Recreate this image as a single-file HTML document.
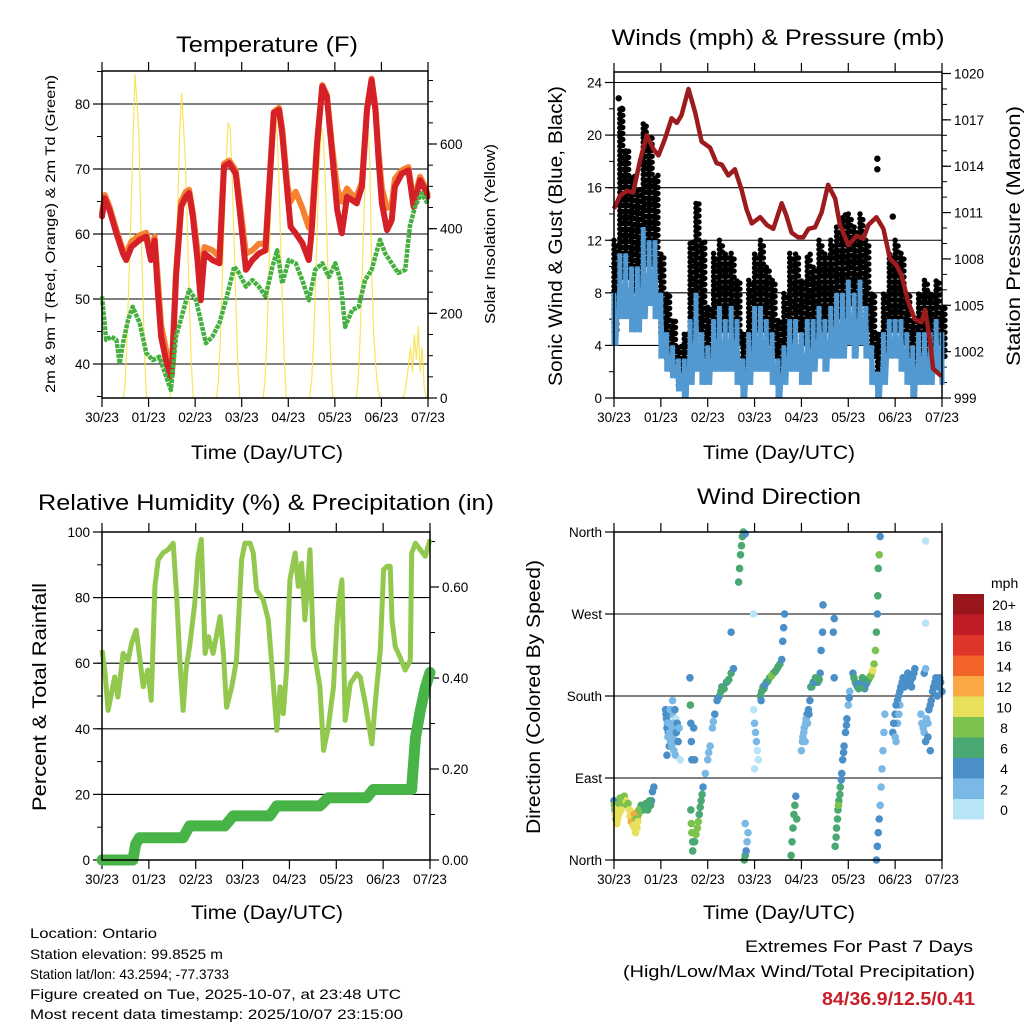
<!DOCTYPE html>
<html><head><meta charset="utf-8"><style>
html,body{margin:0;padding:0;background:#fff;}
svg{display:block;font-family:"Liberation Sans",sans-serif;}
</style></head><body>
<svg id="fig" width="1024" height="1024" viewBox="0 0 1024 1024">
<rect width="1024" height="1024" fill="#fff"/>
<g font-size="22" text-anchor="middle" fill="#000">
<text x="267" y="52" textLength="182" lengthAdjust="spacingAndGlyphs">Temperature (F)</text>
<text x="778" y="45" textLength="333" lengthAdjust="spacingAndGlyphs">Winds (mph) &amp; Pressure (mb)</text>
<text x="266" y="510" textLength="456" lengthAdjust="spacingAndGlyphs">Relative Humidity (%) &amp; Precipitation (in)</text>
<text x="779" y="504" textLength="164" lengthAdjust="spacingAndGlyphs">Wind Direction</text>
</g>
<g font-size="19" text-anchor="middle">
<text x="267" y="459" textLength="152" lengthAdjust="spacingAndGlyphs">Time (Day/UTC)</text>
<text x="779" y="459" textLength="152" lengthAdjust="spacingAndGlyphs">Time (Day/UTC)</text>
<text x="267" y="919" textLength="152" lengthAdjust="spacingAndGlyphs">Time (Day/UTC)</text>
<text x="779" y="919" textLength="152" lengthAdjust="spacingAndGlyphs">Time (Day/UTC)</text>
<text transform="translate(55,234) rotate(-90)" font-size="14" textLength="318" lengthAdjust="spacingAndGlyphs">2m &amp; 9m T (Red, Orange) &amp; 2m Td (Green)</text>
<text transform="translate(495,234) rotate(-90)" font-size="15" textLength="180" lengthAdjust="spacingAndGlyphs">Solar Insolation (Yellow)</text>
<text transform="translate(562,236) rotate(-90)" textLength="300" lengthAdjust="spacingAndGlyphs">Sonic Wind &amp; Gust (Blue, Black)</text>
<text transform="translate(1020,236) rotate(-90)" textLength="260" lengthAdjust="spacingAndGlyphs">Station Pressure (Maroon)</text>
<text transform="translate(46,697) rotate(-90)" textLength="228" lengthAdjust="spacingAndGlyphs">Percent &amp; Total Rainfall</text>
<text transform="translate(540,697) rotate(-90)" textLength="274" lengthAdjust="spacingAndGlyphs">Direction (Colored By Speed)</text>
</g>
<g font-size="14">
<text x="30" y="938" textLength="127" lengthAdjust="spacingAndGlyphs">Location: Ontario</text>
<text x="30" y="959" textLength="193" lengthAdjust="spacingAndGlyphs">Station elevation: 99.8525 m</text>
<text x="30" y="979" textLength="199" lengthAdjust="spacingAndGlyphs">Station lat/lon: 43.2594; -77.3733</text>
<text x="30" y="999" textLength="371" lengthAdjust="spacingAndGlyphs">Figure created on Tue, 2025-10-07, at 23:48 UTC</text>
<text x="30" y="1019" textLength="373" lengthAdjust="spacingAndGlyphs">Most recent data timestamp: 2025/10/07 23:15:00</text>
<text x="973" y="952" text-anchor="end" font-size="17" textLength="228" lengthAdjust="spacingAndGlyphs">Extremes For Past 7 Days</text>
<text x="975" y="977" text-anchor="end" font-size="17" textLength="352" lengthAdjust="spacingAndGlyphs">(High/Low/Max Wind/Total Precipitation)</text>
<text x="975" y="1005" text-anchor="end" font-size="18" font-weight="bold" fill="#c8202a" textLength="153" lengthAdjust="spacingAndGlyphs">84/36.9/12.5/0.41</text>
</g>
</svg>
<script>
// ---------- data ----------
const dayLabels=["30/23","01/23","02/23","03/23","04/23","05/23","06/23","07/23"];
const tempTicks=[40,50,60,70,80];
const solarTicks=[0,200,400,600];
const windTicks=[0,4,8,12,16,20,24];
const presTicks=[999,1002,1005,1008,1011,1014,1017,1020];
const rhTicks=[0,20,40,60,80,100];
const rainTicks=["0.00","0.20","0.40","0.60"];
const dirTicks=["North","East","South","West","North"];

const tDays=[0,0.06,0.16,0.31,0.45,0.52,0.63,0.81,0.95,1.05,1.13,1.2,1.27,1.45,1.5,1.59,1.7,1.8,1.87,1.95,2.05,2.12,2.2,2.37,2.52,2.62,2.73,2.87,2.98,3.09,3.23,3.37,3.51,3.69,3.8,3.87,3.98,4.05,4.16,4.3,4.44,4.51,4.62,4.73,4.83,4.94,5.05,5.15,5.26,5.37,5.47,5.58,5.69,5.79,5.87,5.94,6.01,6.12,6.22,6.29,6.44,6.58,6.69,6.83,6.94,6.99];
const temp2m=[62.7,65.5,63.7,60.1,57,56,58,59.1,59.6,56,59,50.9,44.2,38,38.5,53.4,64.2,65.7,66.3,62.7,56,49.8,57,56,55.5,70.4,70.9,69.3,62.1,54.5,56,57,57.5,78.6,79.1,75.5,66.3,61.1,60.1,58.6,56,61.1,74,82.7,81.1,72.4,63.7,60.1,65.7,65.2,64.7,67.3,79.1,83.7,79.1,71.4,64.7,60.6,62.1,67.3,69.3,69.8,64.2,68.3,66.8,65.7];
const temp9m=[63.2,66,64.2,60.6,57.5,57,58.8,59.8,60.2,57,59.6,53,46,39.5,40,54,65,66.5,66.8,63.4,57.5,51,58,57.5,56.5,70.8,71.3,69.8,63.5,57,57.5,58.5,58.5,78.8,79.4,76.2,67.5,65,66.5,64,61,63,74.5,82.9,81.4,73.4,67,65,67,66,65.8,68,79.4,83.9,79.6,72.5,67,64,64.5,68.5,69.8,70.3,65,68.8,67.2,66.2];
const tdDays=[0,0.09,0.2,0.31,0.38,0.45,0.56,0.66,0.81,0.95,1.09,1.23,1.38,1.48,1.59,1.73,1.87,2.02,2.23,2.37,2.52,2.66,2.84,2.94,3.09,3.23,3.37,3.51,3.66,3.76,3.87,4.01,4.16,4.3,4.44,4.58,4.73,4.87,5.01,5.12,5.22,5.37,5.51,5.65,5.79,5.97,6.08,6.22,6.36,6.51,6.61,6.72,6.86,6.99];
const dewpoint=[50.4,43.7,44.2,43.7,40.1,43.2,46.8,48.8,46.3,41.7,40.6,41.1,38,36,44.2,47.8,51.4,49.8,43.2,44.2,46.3,49.8,55,54,51.9,52.9,51.9,50.4,55,57.5,52.4,56,55.5,52.9,49.8,54.5,55.5,53.4,55.5,52.9,45.7,48.3,48.8,52.9,54.5,59.1,57,55.5,54,54.5,61.1,64.2,66.3,64.7];
const solarHours=[11,12,13,14,15,16,17,18,19,20,21,22,23];
const solarDay0=[0,40,150,300,450,600,765,700,620,420,250,90,0];
const solarDay1=[0,40,150,300,450,620,720,640,560,400,230,80,0];
const solarDay2=[0,40,140,280,420,560,650,640,530,380,220,80,0];
const solarDay3=[0,40,140,300,460,600,680,660,540,380,220,80,0];
const solarDay4=[0,40,130,270,410,560,640,620,520,370,210,70,0];
const solarDay5=[0,40,140,280,430,580,650,560,300,150,80,30,0];
const solarDay6=[0,10,40,80,120,60,150,90,170,60,120,30,0];

const wDays=[0,0.125,0.25,0.375,0.5,0.625,0.75,0.875,1,1.125,1.25,1.375,1.5,1.625,1.75,1.875,2,2.125,2.25,2.375,2.5,2.625,2.75,2.875,3,3.125,3.25,3.375,3.5,3.625,3.75,3.875,4,4.125,4.25,4.375,4.5,4.625,4.75,4.875,5,5.125,5.25,5.375,5.5,5.625,5.75,5.875,6,6.125,6.25,6.375,6.5,6.625,6.75,6.875,7];
const gustHi=[12,22,19,17,16,21,20,17,11,8,6,4,5,12,15,12,7,11,12,11,11,9,5,9,11,12,10,9,6,8,11,11,9,11,10,12,11,12,13,14,14,13,14,12,8,5,8,11,12,11,8,6,8,9,8,9,7];
const gustLo=[5,9,9,8,7,10,10,9,5,3,2,1,1,3,5,3,2,4,5,5,4,4,1,3,5,5,4,3,1,2,4,5,4,3,4,5,5,5,6,6,7,6,7,5,3,1,3,5,5,4,3,2,3,3,3,4,3];
const spdHi=[8,11,11,10,10,13,12,12,8,5,4,3,3,6,8,5,4,6,7,6,7,6,3,5,7,7,6,5,3,4,6,6,5,6,6,7,6,7,8,8,9,8,9,7,4,2,5,6,6,6,5,4,5,5,5,6,5];
const spdLo=[4,6,6,5,5,6,7,6,3,2,1.5,0.5,0,1,2,1,1,2,2,2,2,1,0,1,2,2,2,1,0,1,2,2,1,1,2,3,2,3,3,3,4,3,4,3,1,0,1,3,3,2,1,0,1,1,1,2,1];
const gustOutDays=[0.1,0.17,0.65,5.62,5.62,5.95];
const gustOutVals=[22.8,22,20.5,18.2,17.4,13.8];
const presDays=[0,0.13,0.27,0.41,0.55,0.7,0.84,0.95,1.09,1.23,1.34,1.44,1.59,1.73,1.87,2.05,2.19,2.3,2.44,2.58,2.72,2.83,2.94,3.12,3.26,3.4,3.58,3.68,3.79,3.93,4.04,4.15,4.29,4.43,4.57,4.72,4.82,5,5.18,5.32,5.43,5.6,5.75,5.89,6.03,6.14,6.28,6.42,6.56,6.64,6.74,6.81,6.99];
const pressure=[1011.25,1012.1,1012.4,1012.3,1014.3,1016,1015.1,1014.7,1015.8,1017.1,1016.8,1017.3,1019,1017.5,1015.6,1015.2,1014.2,1014.1,1013.4,1013.8,1012.5,1011.2,1010.3,1010.7,1010.2,1009.95,1011.6,1010.8,1009.7,1009.4,1009.4,1009.95,1010.05,1011,1012.8,1011.9,1010.2,1008.9,1009.5,1009.3,1010.2,1010.7,1009.95,1008,1007.6,1006.9,1005.2,1004.1,1003.9,1004.7,1002.8,1000.9,1000.4];

const rhDays=[0,0.06,0.13,0.2,0.27,0.34,0.45,0.56,0.63,0.73,0.81,0.88,0.98,1.05,1.13,1.2,1.3,1.41,1.52,1.59,1.66,1.73,1.8,1.87,1.98,2.05,2.12,2.2,2.27,2.37,2.52,2.59,2.66,2.77,2.87,2.98,3.05,3.16,3.23,3.3,3.44,3.55,3.66,3.73,3.8,3.87,3.94,4.01,4.12,4.19,4.26,4.33,4.44,4.51,4.65,4.73,4.83,4.94,5.01,5.05,5.12,5.19,5.3,5.44,5.51,5.62,5.76,5.83,5.94,6.01,6.08,6.15,6.19,6.26,6.36,6.47,6.58,6.61,6.69,6.79,6.9,7];
const rhVals=[64,57.9,45.6,50.7,55.8,49.7,63,60.9,66,70.1,60.9,52.8,57.9,48.7,83.4,91.5,93.6,94.6,96.6,81.3,60.9,45.6,58.9,65,78.3,92.6,97.7,63,68.1,63,74.2,63,46.6,52.8,60.9,91.5,96.6,96.6,93.6,82.3,79.3,73.2,52.8,39.5,52.8,44.6,57.9,85.4,93.6,83.4,90.5,73.2,94.6,65,52.8,33.4,40.5,52.8,71.1,78.3,85.4,42.6,53.8,56.8,55.8,47.7,35.4,47.7,64,88.5,89.5,89.5,73.2,65,61.9,57.9,60.9,93.6,96.6,94.6,92.6,97.7];
const rainDays=[0,0.66,0.72,0.8,1.73,1.87,2.62,2.8,3.58,3.73,4.65,4.83,5.65,5.79,6.61,6.62,6.69,6.79,6.9,7];
const rainVals=[0,0,0.035,0.049,0.049,0.075,0.075,0.097,0.097,0.119,0.119,0.137,0.137,0.155,0.155,0.174,0.269,0.327,0.379,0.412];

const dirDays=[0,0.02,0.04,0.06,0.08,0.1,0.12,0.14,0.16,0.18,0.2,0.22,0.25,0.28,0.3,0.33,0.36,0.38,0.4,0.42,0.44,0.46,0.48,0.5,0.52,0.55,0.58,0.6,0.62,0.66,0.7,0.74,0.78,0.8,0.82,0.85,
1.1,1.12,1.14,1.16,1.18,1.2,1.22,1.24,1.26,1.28,1.3,1.32,1.62,1.63,1.64,1.65,1.66,1.64,1.65,1.66,1.68,1.68,1.7,1.72,
1.72,1.78,1.82,1.86,1.9,1.95,2,2.05,2.1,2.15,2.2,2.25,2.3,2.35,2.4,2.45,2.5,2.55,2.5,
2.66,2.68,2.7,2.72,2.74,2.76,2.8,2.78,2.8,2.82,2.84,2.86,2.8,2.98,3,3.02,3.04,3.06,3.08,3,2.98,
3.12,3.18,3.25,3.32,3.4,3.48,3.54,3.58,3.6,3.62,3.64,3.78,3.8,3.82,3.84,3.86,3.88,3.9,
4,4.03,4.06,4.09,4.12,4.15,4.18,4.2,4.25,4.3,4.35,4.4,4.42,4.45,4.46,
4.72,4.75,4.78,4.8,4.83,4.86,4.88,4.91,4.94,4.97,5,5.03,4.7,4.68,4.7,
5.1,5.15,5.2,5.25,5.3,5.35,5.4,5.45,5.5,5.55,5.58,5.6,5.62,5.63,5.64,5.66,5.68,
5.6,5.62,5.64,5.66,5.68,5.7,5.72,5.74,5.76,5.78,
5.95,6,6.05,6.1,6.15,6.2,6.25,6.3,6.35,6.4,6,6.05,6.1,
6.55,6.6,6.65,6.7,6.75,6.8,6.85,6.9,6.95,7,6.62,6.65,6.65,6.65];
const dirVals=[65,55,45,40,45,50,55,60,62,65,68,70,65,60,62,55,50,45,40,45,35,30,40,45,50,55,60,58,55,60,58,62,60,65,75,80,
165,155,150,140,125,145,150,160,135,120,145,155,200,170,150,130,110,55,40,30,20,10,145,110,
20,35,50,65,80,95,110,125,145,160,175,180,190,188,195,198,205,210,250,
305,320,335,345,355,360,358,0,5,10,20,30,40,165,150,140,130,120,110,100,270,
180,190,195,200,205,210,215,220,240,255,270,5,20,35,50,60,70,45,
120,135,145,150,160,165,175,190,195,200,195,205,230,250,280,
15,35,55,65,80,95,110,125,140,155,170,185,200,250,265,
205,195,190,192,195,188,195,200,205,215,230,250,270,290,320,335,355,
0,15,30,45,60,80,100,120,140,160,
140,160,175,185,195,190,200,200,190,205,135,150,170,
160,145,130,150,170,185,195,180,200,185,205,210,260,350];
const dirSpeeds=[4,6,8,10,10,10,9,10,8,8,7,8,10,9,8,10,11,12,12,10,10,10,11,12,9,8,6,6,6,6,7,6,6,5,4,4,
4,4,3,4,4,2,2,2,2,2,2,1,4,6,4,4,4,6,8,8,7,6,4,4,
6,8,7,6,4,2,2,2,3,4,4,6,6,6,5,6,6,4,4,
6,6,6,7,6,6,4,6,6,4,3,2,2,1,2,2,2,1,1,1,1,
6,6,6,6,6,6,6,5,4,4,4,6,6,6,6,6,4,6,
2,2,2,3,4,4,4,5,6,6,6,5,4,4,4,
6,6,7,6,6,4,4,4,4,4,2,3,4,4,4,
4,6,6,6,6,5,6,8,10,8,8,6,4,6,6,8,4,
4,4,4,4,2,2,2,2,2,2,
4,4,4,4,4,4,4,5,4,4,2,2,2,
2,2,4,2,4,4,4,4,4,4,4,2,0,0];
const dirDays2=[1.11,1.13,1.15,1.17,1.19,1.21,1.23,1.25,1.27,1.29,1.31,1.33,1.35,1.37,1.39,1.41,1.13,1.2,1.25,1.3,
0.01,0.03,0.05,0.07,0.09,0.11,0.13,0.15,0.34,0.37,0.39,0.41,0.43,0.45,0.47,0.49,0.51,0.53,0.65,0.68,0.72,0.76,
3.15,3.2,3.28,3.36,3.44,3.5,3.14,3.22,
4.02,4.05,4.08,4.1,4.13,4.16,4.22,4.28,4.32,4.38,
5.12,5.18,5.22,5.28,5.33,5.38,5.43,5.48,5.52,5.3,
5.97,6.02,6.07,6.12,6.17,6.22,6.27,6.32,6.37,6.42,6.02,6.08,
6.57,6.62,6.67,6.72,6.77,6.82,6.87,6.92,6.97,6.7,6.75,
4.74,4.77,4.79,4.82,4.85,4.9,4.96,5.02,
1.75,1.8,1.84,1.88,2.02,2.12,2.22,2.28,2.42];
const dirVals2=[160,145,135,150,140,130,125,145,150,130,115,140,150,130,145,110,115,165,175,165,
60,50,55,48,58,62,68,55,48,42,52,38,50,40,45,35,42,55,58,62,55,65,
185,188,196,202,207,212,175,192,
130,140,130,155,150,160,190,195,200,198,
200,192,188,195,190,193,198,202,208,200,
150,170,180,190,200,195,205,195,200,210,130,160,
150,140,155,165,175,190,200,190,195,135,120,
25,45,60,72,88,118,148,178,
28,42,58,72,118,152,178,185,196];
const dirSpeeds2=[4,4,2,2,2,2,2,2,2,2,2,4,4,4,2,1,4,2,2,4,
8,10,10,10,10,8,8,10,10,12,10,10,12,10,8,10,10,8,6,6,6,6,
6,6,6,8,6,6,4,4,
2,2,2,2,2,4,6,4,6,6,
6,4,6,4,6,4,6,8,10,6,
4,4,4,4,4,4,4,4,4,4,2,2,
2,2,2,4,4,4,4,4,4,4,4,
6,6,8,6,4,4,4,4,
8,8,6,6,2,2,4,6,6];
const speedColors=["#b8e4f8","#7ab9e6","#4a8fc8","#4aa872","#7cc34e","#e8e05a","#f9a845","#f26427","#e0352a","#c01c26","#98161c"];
const speedLabels=["0","2","4","6","8","10","12","14","16","18","20+"];

// ---------- helpers ----------
const NS="http://www.w3.org/2000/svg";
const svg=document.getElementById('fig');
function mk(tag,attrs,parent){const e=document.createElementNS(NS,tag);for(const k in attrs)e.setAttribute(k,attrs[k]);(parent||svg).appendChild(e);return e;}
function grp(name){const g=mk('g',{});


return g;}
function lin(d0,d1,p0,p1){return v=>p0+(v-d0)/(d1-d0)*(p1-p0);}
function pts(xs,ys,fx,fy){return xs.map((d,i)=>fx(d).toFixed(1)+','+fy(ys[i]).toFixed(1)).join(' ');}

function frame(name,x0,x1,y0,y1){
  const g=grp(name+'-frame');
  const X=lin(0,7,x0,x1);
  for(let i=0;i<=7;i++){
    const x=X(i);
    mk('line',{x1:x,x2:x,y1:y1,y2:y1+9,stroke:'#000','stroke-width':1.2},g);
    mk('line',{x1:x,x2:x,y1:y0,y2:y0-9,stroke:'#000','stroke-width':1.2},g);
    const t=mk('text',{x:x,y:y1+24,'font-size':13.5,'text-anchor':'middle'},g);
    t.textContent=dayLabels[i];
    
    
  }
  return X;
}
function border(x0,x1,y0,y1){const r=mk('rect',{x:x0,y:y0,width:x1-x0,height:y1-y0,fill:'none',stroke:'#000','stroke-width':1.5});

}
function yAxis(g,x,Y,vals,labels,side,minors,grid,x0,x1){
  vals.forEach((v,i)=>{const y=Y(v);
    mk('line',{x1:x,x2:x+(side<0?-9:9),y1:y,y2:y,stroke:'#000','stroke-width':1.2},g);
    if(grid)mk('line',{x1:x0,x2:x1,y1:y,y2:y,stroke:'#000','stroke-width':1.1},g);
    const t=mk('text',{x:x+(side<0?-12:12),y:y+5,'font-size':13.5,'text-anchor':side<0?'end':'start'},g);
    t.textContent=labels[i];
    
    
  });
  (minors||[]).forEach(v=>{const y=Y(v);mk('line',{x1:x,x2:x+(side<0?-5:5),y1:y,y2:y,stroke:'#000','stroke-width':1},g);});
}
function range(a,b,s){const r=[];for(let v=a;v<=b+1e-9;v+=s)r.push(+v.toFixed(4));return r;}

// ---------- Panel 1: temperature ----------
(function(){
  const x0=102,x1=428,y0=71,y1=398;
  const X=frame('temp',x0,x1,y0,y1);
  const T=lin(40,80,364,104), S=lin(0,600,398,144);
  const g=grp('temp-axes');
  yAxis(g,x0,T,tempTicks,tempTicks.map(String),-1,range(35,85,5),true,x0,x1);
  yAxis(g,x1,S,solarTicks,solarTicks.map(String),1,range(0,750,50),false);
  const days=[solarDay0,solarDay1,solarDay2,solarDay3,solarDay4,solarDay5,solarDay6];
  const sg=grp('solar-series');
  days.forEach((arr,d)=>{const p=mk('polyline',{points:pts(solarHours.map(h=>d+h/24),arr,X,S),fill:'none',stroke:'#f8e040','stroke-width':1.2,opacity:0.85},sg);
    
    });
  let p=mk('polyline',{points:pts(tDays,temp9m,X,T),fill:'none',stroke:'#f58230','stroke-width':6,'stroke-linejoin':'round','stroke-linecap':'round'});
  
  
  p=mk('polyline',{points:pts(tDays,temp2m,X,T),fill:'none',stroke:'#d42026','stroke-width':6,'stroke-linejoin':'round','stroke-linecap':'round'});
  
  
  p=mk('polyline',{points:pts(tdDays,dewpoint,X,T),fill:'none',stroke:'#45b040','stroke-width':4.5,'stroke-dasharray':'4 1','stroke-linejoin':'round'});
  
  
  border(x0,x1,y0,y1);
})();

// ---------- Panel 2: winds ----------
(function(){
  const x0=614,x1=942,y0=72,y1=398;
  const X=frame('wind',x0,x1,y0,y1);
  const W=lin(0,24,398,82.5), P=lin(999,1020,398,73.5);
  const g=grp('wind-axes');
  yAxis(g,x0,W,windTicks,windTicks.map(String),-1,range(0,24,2),true,x0,x1);
  yAxis(g,x1,P,presTicks,presTicks.map(String),1,range(999,1020,1),false);
  const gg=grp('gust-series');
  wDays.forEach((d,i)=>{const l=mk('line',{x1:X(d),x2:X(d),y1:W(gustLo[i]),y2:W(gustHi[i]),stroke:'#000','stroke-width':5.5,'stroke-linecap':'round','stroke-dasharray':'0 4.6'},gg);
    
    
    const l2=mk('line',{x1:X(d)+2.9,x2:X(d)+2.9,y1:W(gustLo[i])-2.3,y2:W(gustHi[i]),stroke:'#000','stroke-width':5.5,'stroke-linecap':'round','stroke-dasharray':'0 6'},gg);
    
    });
  gustOutDays.forEach((d,i)=>{const c=mk('circle',{cx:X(d),cy:W(gustOutVals[i]),r:3.2,fill:'#000'},gg);
    
    });
  const bg=grp('speed-series');
  wDays.forEach((d,i)=>{const l=mk('line',{x1:X(d),x2:X(d),y1:W(spdLo[i]),y2:W(spdHi[i]),stroke:'#5299d2','stroke-width':5},bg);
    
    });
  const zz=[],zv=[];wDays.forEach((d,i)=>{zz.push(d,d+0.0625);zv.push(spdHi[i],spdLo[i]);});
  let p=mk('polyline',{points:pts(zz.slice(0,-1),zv.slice(0,-1),X,W),fill:'none',stroke:'#5299d2','stroke-width':3},bg);
  
  
  p=mk('polyline',{points:pts(presDays,pressure,X,P),fill:'none',stroke:'#9b1b1e','stroke-width':4.5,'stroke-linejoin':'round'});
  
  
  border(x0,x1,y0,y1);
})();

// ---------- Panel 3: RH & rain ----------
(function(){
  const x0=102,x1=430,y0=532,y1=860;
  const X=frame('rh',x0,x1,y0,y1);
  const H=lin(0,100,860,532), R=lin(0,0.2,860,769);
  const g=grp('rh-axes');
  yAxis(g,x0,H,rhTicks,rhTicks.map(String),-1,range(0,100,10),true,x0,x1);
  yAxis(g,x1,R,rainTicks.map(Number),rainTicks,1,range(0,0.7,0.1),false);
  let p=mk('polyline',{points:pts(rhDays,rhVals,X,H),fill:'none',stroke:'#92c84e','stroke-width':5,'stroke-linejoin':'round'});
  
  
  p=mk('polyline',{points:pts(rainDays,rainVals,X,R),fill:'none',stroke:'#48b448','stroke-width':11,'stroke-linejoin':'round','stroke-linecap':'round'});
  
  
  border(x0,x1,y0,y1);
})();

// ---------- Panel 4: wind direction ----------
(function(){
  const x0=614,x1=942,y0=532,y1=860;
  const X=frame('dir',x0,x1,y0,y1);
  const D=lin(0,360,860,532);
  const g=grp('dir-axes');
  yAxis(g,x0,D,[0,90,180,270,360],dirTicks,-1,[],true,x0,x1);
  const pg=grp('direction-points');
  function plot(days,vals,spds){days.forEach((d,i)=>{const b=Math.min(10,Math.floor(spds[i]/2));
    const c=mk('circle',{cx:X(d),cy:D(vals[i]),r:3.8,fill:speedColors[b]},pg);
    
    });}
  plot(dirDays,dirVals,dirSpeeds);
  plot(dirDays2,dirVals2,dirSpeeds2);
  border(x0,x1,y0,y1);
  const lg=grp('speed-colorbar');
  const t0=mk('text',{x:991,y:588,'font-size':14,'text-anchor':'start'},lg);
  t0.textContent='mph';
  
  
  for(let i=0;i<11;i++){const y=594+(10-i)*20.5;
    const r=mk('rect',{x:953,y:y,width:31,height:20.5,fill:speedColors[i]},lg);
    
    
    const t=mk('text',{x:1004,y:y+16,'font-size':14,'text-anchor':'middle'},lg);
    t.textContent=speedLabels[i];
    
    }
})();
</script>
</body></html>
